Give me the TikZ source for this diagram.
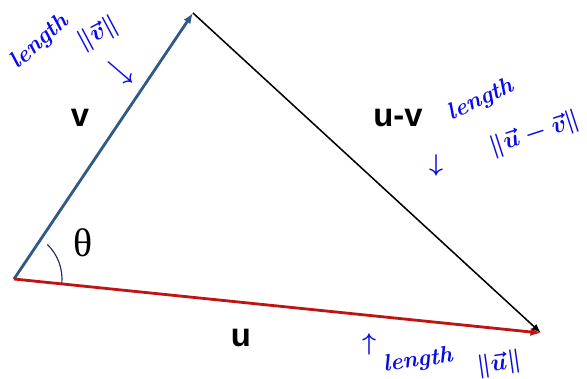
\documentclass[tikz,border=0pt]{standalone}
\usepackage{amsmath,amssymb}
\usepackage{fontspec}
\setsansfont{Liberation Sans}
\newfontfamily\greekfont{Liberation Serif}
\usepackage{tikz}
\usetikzlibrary{arrows.meta,positioning,calc}

\definecolor{vblue}{RGB}{47,90,135}
\definecolor{ured}{RGB}{190,20,20}
\definecolor{inkblue}{RGB}{10,10,230}
\definecolor{arcblue}{RGB}{30,50,100}

\begin{document}
\begin{tikzpicture}[x=0.03cm, y=-0.03cm,
    vec/.style={line width=2.4pt, -{Latex[length=9pt,width=7pt]}},
    lbl/.style={font=\sffamily\bfseries\fontsize{28}{28}\selectfont},
    ink/.style={inkblue, inner sep=0pt, font=\bfseries\itshape\fontsize{20}{20}\selectfont}]
    \useasboundingbox (0,0) rectangle (587,378);

    % Corners of the triangle
    \coordinate (O) at (14,279);
    \coordinate (V) at (193,13);
    \coordinate (U) at (541,333);

    % Vectors
    \draw[vec, vblue] (O) -- (V);
    \draw[vec, ured] (O) -- (U);
    \draw[black, line width=1.3pt, -{Latex[length=8pt,width=6pt]}] (V) -- (U);

    % Angle between u and v
    \draw[arcblue, line width=1pt] ($(O)+(-46:48)$) arc[start angle=-46, end angle=5, radius=48];
    \node[font=\greekfont\fontsize{34}{34}\selectfont] (theta) at (83,243) {θ};

    % Vector names
    \node[lbl] (vname) at (80,118) {v};
    \node[lbl] (uvname) at (398,118) {u-v};
    \node[lbl] (uname) at (241,338) {u};

    % Hand-written lengths
    \node[ink, rotate=42] (vlen) at (40,42) {length};
    \node[ink, rotate=28] (vnorm) at (98,34) {$\boldsymbol{\|\vec{v}\|}$};
    \node[ink] (varrow) at (120,72) {$\boldsymbol{\searrow}$};

    \node[ink, rotate=25] (uvlen) at (481,100) {length};
    \node[ink, rotate=18] (uvnorm) at (535,134) {$\boldsymbol{\|\vec{u}-\vec{v}\|}$};
    \node[ink] (uvarrow) at (436,165) {$\boldsymbol{\downarrow}$};

    \foreach \n/\x/\y/\t in {ulen/418/361/length, unorm/499/364/$\boldsymbol{\|\vec{u}\|}$} {
        \node[ink, rotate=8] (\n) at (\x,\y) {\t};
    }
    \node[ink] (uarrow) at (369,344) {$\boldsymbol{\uparrow}$};
\end{tikzpicture}
\end{document}
